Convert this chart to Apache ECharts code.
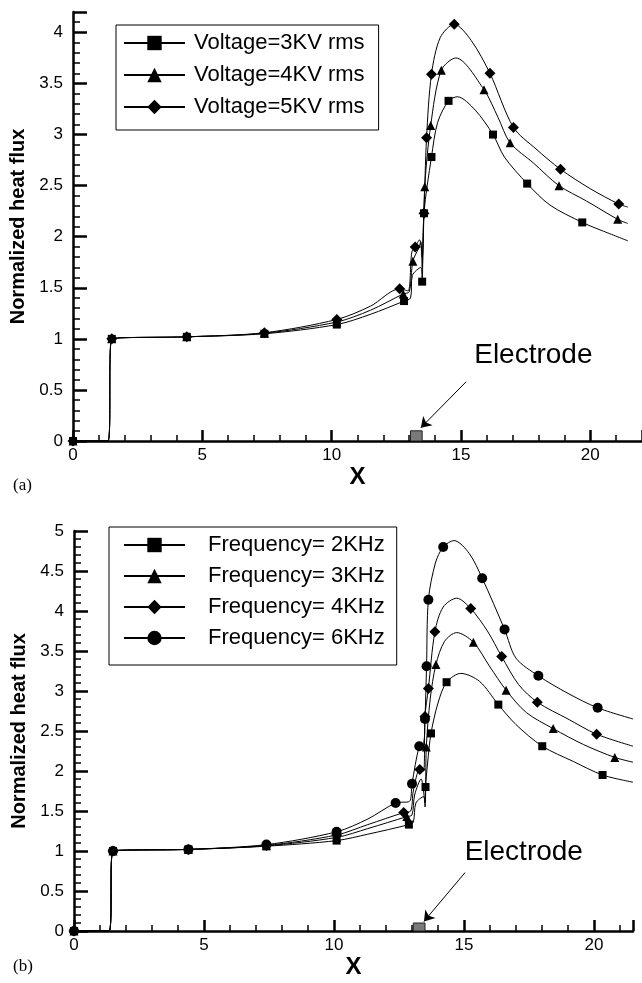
<!DOCTYPE html>
<html>
<head>
<meta charset="utf-8">
<script src="https://cdn.jsdelivr.net/npm/echarts@6/dist/echarts.min.js"></script>
<style>
  html, body { margin: 0; padding: 0; background: #fff; }
  #main { width: 642px; height: 983px; }
</style>
</head>
<body>
<div id="main"></div>
<script>
// (a) voltage curves, [x, normalized heat flux]
var volt3Curve = [[0,0],[1.35,0],[1.5,1.0],[4.4,1.02],[7.4,1.05],[10.2,1.14],[11.5,1.24],[12.8,1.37],[13.05,1.40],[13.12,1.62],[13.45,1.70],[13.5,1.56],[13.57,2.23],[13.86,2.78],[14.1,3.12],[14.52,3.33],[14.86,3.37],[15.55,3.24],[16.24,3.0],[16.68,2.78],[17.56,2.52],[18.44,2.31],[19.69,2.14],[20.45,2.06],[21.45,1.96]];
var volt3Marks = [[0,0],[1.5,1.0],[4.4,1.02],[7.4,1.05],[10.2,1.14],[12.8,1.37],[13.5,1.56],[13.57,2.23],[13.86,2.78],[14.52,3.33],[16.24,3.0],[17.56,2.52],[19.69,2.14]];
var volt4Curve = [[0,0],[1.35,0],[1.5,1.0],[4.4,1.02],[7.4,1.055],[10.2,1.165],[11.5,1.28],[12.77,1.44],[13.0,1.46],[13.14,1.76],[13.35,1.88],[13.45,1.95],[13.5,1.70],[13.6,2.49],[13.83,3.09],[14.24,3.63],[14.8,3.75],[15.89,3.44],[16.43,3.17],[16.9,2.92],[17.81,2.72],[18.79,2.50],[19.85,2.35],[21.06,2.17],[21.45,2.13]];
var volt4Marks = [[0,0],[1.5,1.0],[4.4,1.02],[7.4,1.055],[10.2,1.165],[12.77,1.44],[13.14,1.76],[13.6,2.49],[13.83,3.09],[14.24,3.63],[15.89,3.44],[16.9,2.92],[18.79,2.50],[21.06,2.17]];
var volt5Curve = [[0,0],[1.35,0],[1.5,1.0],[4.4,1.02],[7.4,1.06],[10.2,1.19],[11.5,1.32],[12.63,1.49],[12.95,1.47],[13.1,1.85],[13.23,1.90],[13.4,1.97],[13.5,1.80],[13.57,2.23],[13.67,2.97],[13.86,3.59],[14.2,3.95],[14.74,4.08],[15.4,3.92],[16.12,3.6],[17.03,3.07],[17.9,2.86],[18.85,2.66],[20.0,2.47],[21.1,2.32],[21.45,2.29]];
var volt5Marks = [[0,0],[1.5,1.0],[4.4,1.02],[7.4,1.06],[10.2,1.19],[12.63,1.49],[13.23,1.90],[13.57,2.23],[13.67,2.97],[13.86,3.59],[14.74,4.08],[16.12,3.6],[17.03,3.07],[18.85,2.66],[21.1,2.32]];

// (b) frequency curves
var freq2Curve = [[0,0],[1.35,0],[1.5,1.0],[4.4,1.02],[7.4,1.06],[10.1,1.13],[11.3,1.21],[12.88,1.33],[13.05,1.36],[13.15,1.6],[13.45,1.68],[13.5,1.55],[13.52,1.80],[13.6,2.1],[13.73,2.47],[14.0,2.85],[14.33,3.11],[14.88,3.22],[15.6,3.12],[16.32,2.83],[17.0,2.58],[18.01,2.31],[19.2,2.12],[20.33,1.95],[21.5,1.86]];
var freq2Marks = [[0,0],[1.5,1.0],[4.4,1.02],[7.4,1.06],[10.1,1.13],[12.88,1.33],[13.52,1.80],[13.73,2.47],[14.33,3.11],[16.32,2.83],[18.01,2.31],[20.33,1.95]];
var freq3Curve = [[0,0],[1.35,0],[1.5,1.0],[4.4,1.02],[7.4,1.065],[10.1,1.17],[11.3,1.28],[12.8,1.43],[13.0,1.45],[13.1,1.7],[13.35,1.9],[13.5,1.6],[13.55,2.3],[13.7,2.9],[13.92,3.33],[14.25,3.62],[14.72,3.73],[15.36,3.61],[16.0,3.3],[16.62,3.01],[17.4,2.73],[18.43,2.53],[19.6,2.33],[20.8,2.17],[21.5,2.11]];
var freq3Marks = [[0,0],[1.5,1.0],[4.4,1.02],[7.4,1.065],[10.1,1.17],[12.8,1.43],[13.55,2.3],[13.92,3.33],[15.36,3.61],[16.62,3.01],[18.43,2.53],[20.8,2.17]];
var freq4Curve = [[0,0],[1.35,0],[1.5,1.0],[4.4,1.02],[7.4,1.07],[10.1,1.20],[11.3,1.33],[12.68,1.48],[12.95,1.5],[13.05,1.75],[13.3,2.02],[13.45,2.0],[13.5,2.68],[13.63,3.03],[13.88,3.74],[14.2,4.05],[14.72,4.16],[15.26,4.03],[15.9,3.75],[16.45,3.43],[17.1,3.08],[17.82,2.86],[19.0,2.65],[20.1,2.46],[21.5,2.31]];
var freq4Marks = [[0,0],[1.5,1.0],[4.4,1.02],[7.4,1.07],[10.1,1.20],[12.68,1.48],[13.3,2.02],[13.5,2.68],[13.63,3.03],[13.88,3.74],[15.26,4.03],[16.45,3.43],[17.82,2.86],[20.1,2.46]];
var freq6Curve = [[0,0],[1.35,0],[1.5,1.0],[4.4,1.02],[7.4,1.08],[10.1,1.24],[11.3,1.4],[12.37,1.6],[12.9,1.62],[13.0,1.84],[13.28,2.31],[13.45,2.35],[13.5,2.65],[13.56,3.31],[13.63,4.14],[13.9,4.6],[14.2,4.80],[14.62,4.88],[15.2,4.72],[15.7,4.41],[16.56,3.77],[17.0,3.41],[17.86,3.19],[19.0,2.97],[20.14,2.79],[21.5,2.65]];
var freq6Marks = [[0,0],[1.5,1.0],[4.4,1.02],[7.4,1.08],[10.1,1.24],[12.37,1.6],[13.0,1.84],[13.28,2.31],[13.5,2.65],[13.56,3.31],[13.63,4.14],[14.2,4.80],[15.7,4.41],[16.56,3.77],[17.86,3.19],[20.14,2.79]];

var voltNames = ['Voltage=3KV rms', 'Voltage=4KV rms', 'Voltage=5KV rms'];
var freqNames = ['Frequency= 2KHz', 'Frequency= 3KHz', 'Frequency= 4KHz', 'Frequency= 6KHz'];

// electrode block [x0, x1, height] and label / arrow anchors
var electrode = [13.05, 13.5, 0.1];
var labelA = [17.8, 0.84], arrowA = [[15.2, 0.58], [13.45, 0.13]];
var labelB = [17.3, 0.98], arrowB = [[15.04, 0.73], [13.46, 0.12]];

var sans = '"Liberation Sans", Arial, sans-serif';

function curve(name, pts, sym, g) {
  return {
    type: 'line', name: name, data: pts, xAxisIndex: g, yAxisIndex: g,
    smooth: 0.3, symbol: sym, showSymbol: false,
    lineStyle: { color: '#000', width: 1 }, itemStyle: { color: '#000' },
    silent: true, z: 2
  };
}
function marks(name, pts, sym, size, g) {
  return {
    type: 'scatter', name: name, data: pts, xAxisIndex: g, yAxisIndex: g,
    symbol: sym, symbolSize: size, itemStyle: { color: '#000', opacity: 1 },
    silent: true, z: 3
  };
}
function electrodeMarks(s, label, arrow) {
  s.markArea = {
    silent: true,
    itemStyle: { color: '#7a7a7a', borderColor: '#222', borderWidth: 1 },
    data: [[{ coord: [electrode[0], 0] }, { coord: [electrode[1], electrode[2]] }]]
  };
  s.markLine = {
    silent: true, symbol: ['none', 'arrow'], symbolSize: 10,
    lineStyle: { color: '#000', width: 1, type: 'solid' }, label: { show: false },
    data: [[{ coord: arrow[0] }, { coord: arrow[1] }]]
  };
  s.markPoint = {
    silent: true, symbol: 'rect', symbolSize: 1,
    itemStyle: { color: 'rgba(0,0,0,0)' },
    label: { show: true, position: 'inside', formatter: 'Electrode', color: '#000', fontFamily: sans, fontSize: 28 },
    data: [{ coord: label }]
  };
  return s;
}

function xAxis(g, max, gap) {
  return {
    type: 'value', gridIndex: g, min: 0, max: max, interval: 5,
    name: 'X', nameLocation: 'middle', nameGap: gap,
    nameTextStyle: { fontFamily: sans, fontWeight: 'bold', fontSize: 24, color: '#000' },
    axisLine: { lineStyle: { color: '#000', width: 2.5 } },
    axisTick: { inside: true, length: 11, lineStyle: { color: '#000', width: 2.5 } },
    minorTick: { show: true, splitNumber: 5, length: 6, lineStyle: { color: '#000', width: 1.5 } },
    axisLabel: { margin: 6, color: '#000', fontFamily: sans, fontSize: 17, showMaxLabel: false },
    splitLine: { show: false }
  };
}
function yAxis(g, max) {
  return {
    type: 'value', gridIndex: g, min: 0, max: max, interval: 0.5,
    name: 'Normalized heat flux', nameLocation: 'middle', nameGap: 42,
    nameTextStyle: { fontFamily: sans, fontWeight: 'bold', fontSize: 20, color: '#000' },
    axisLine: { show: true, lineStyle: { color: '#000', width: 2.5 } },
    axisTick: { show: true, inside: true, length: 14, lineStyle: { color: '#000', width: 2.5 } },
    minorTick: { show: true, splitNumber: 5, length: 7, lineStyle: { color: '#000', width: 1.5 } },
    axisLabel: { margin: 10, color: '#000', fontFamily: sans, fontSize: 17, showMaxLabel: max % 0.5 === 0 },
    splitLine: { show: false }
  };
}
function legend(names, left, top, pad, gap, textPad) {
  return {
    orient: 'vertical', left: left, top: top, data: names,
    itemWidth: 61, itemHeight: 18, itemGap: gap, padding: pad,
    borderColor: '#000', borderWidth: 1, backgroundColor: '#fff',
    selectedMode: false,
    textStyle: { fontFamily: sans, fontSize: 22, color: '#000', lineHeight: 22, padding: [0, 0, 0, textPad] }
  };
}

var series = [
  electrodeMarks(curve(voltNames[0], volt3Curve, 'rect', 0), labelA, arrowA),
  curve(voltNames[1], volt4Curve, 'triangle', 0),
  curve(voltNames[2], volt5Curve, 'diamond', 0),
  marks(voltNames[0], volt3Marks, 'rect', 8, 0),
  marks(voltNames[1], volt4Marks, 'triangle', 9, 0),
  marks(voltNames[2], volt5Marks, 'diamond', 11, 0),
  electrodeMarks(curve(freqNames[0], freq2Curve, 'rect', 1), labelB, arrowB),
  curve(freqNames[1], freq3Curve, 'triangle', 1),
  curve(freqNames[2], freq4Curve, 'diamond', 1),
  curve(freqNames[3], freq6Curve, 'circle', 1),
  marks(freqNames[0], freq2Marks, 'rect', 8, 1),
  marks(freqNames[1], freq3Marks, 'triangle', 9, 1),
  marks(freqNames[2], freq4Marks, 'diamond', 11, 1),
  marks(freqNames[3], freq6Marks, 'circle', 10, 1)
];

var chart = echarts.init(document.getElementById('main'), null, { renderer: 'canvas' });
chart.setOption({
  animation: false,
  backgroundColor: '#fff',
  grid: [
    { left: 73, top: 12, width: 585, height: 429 },
    { left: 74, top: 531, width: 559, height: 400 }
  ],
  xAxis: [xAxis(0, 22, 16), xAxis(1, 21.5, 22)],
  yAxis: [yAxis(0, 4.2), yAxis(1, 5)],
  legend: [
    legend(voltNames, 116, 25, [7, 14, 12, 7], 10, 4),
    legend(freqNames, 109, 527, [7, 12, 16, 14], 9, 18)
  ],
  graphic: [
    { type: 'text', left: 13, top: 477, style: { text: '(a)', font: '17px "Liberation Serif", serif', fill: '#000' } },
    { type: 'text', left: 13, top: 958, style: { text: '(b)', font: '17px "Liberation Serif", serif', fill: '#000' } }
  ],
  series: series
});
</script>
</body>
</html>
